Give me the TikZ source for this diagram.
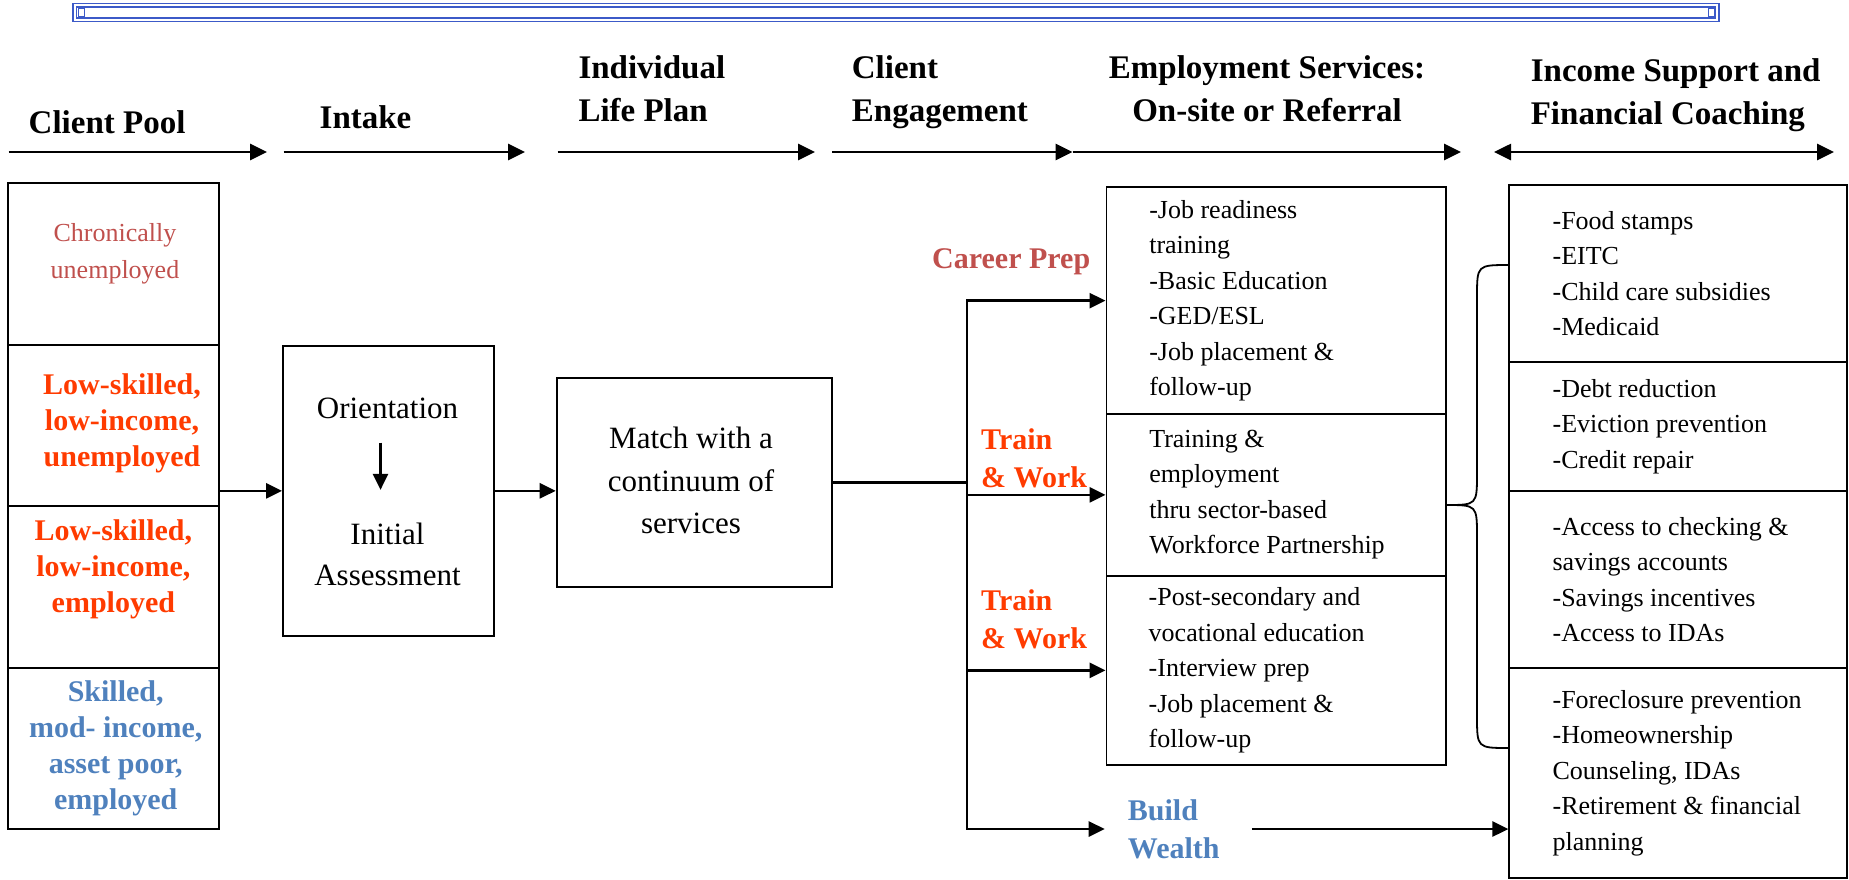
\documentclass[tikz,border=0pt]{standalone}
\usepackage{fontspec}
\setmainfont{Liberation Serif}
\usepackage{tikz}
\usetikzlibrary{arrows.meta,fit,positioning}
\definecolor{prepred}{RGB}{192,80,77}
\definecolor{workred}{RGB}{255,59,0}
\definecolor{wealthblue}{RGB}{79,129,189}
\definecolor{barblue}{RGB}{60,90,200}
\pgfkeys{tikz/myhead/.style={font=\fontsize{33}{43}\selectfont\bfseries,align=left,inner sep=0pt}}
\pgfkeys{tikz/mypool/.style={font=\fontsize{30}{36}\selectfont\bfseries,align=center,inner sep=0pt}}
\pgfkeys{tikz/mylist/.style={font=\fontsize{26}{35.5}\selectfont,align=left,inner sep=0pt,anchor=west}}
\pgfkeys{tikz/mylabel/.style={font=\fontsize{30}{38}\selectfont\bfseries,align=left,inner sep=0pt,anchor=west}}
\pgfkeys{tikz/myarrow/.style={line width=2.7pt,-{Triangle[length=16pt,width=15pt]}}}
\newcommand*\mycell[3][]{\node [fit={#3},draw,line width=1.8pt,inner sep=0pt,#1] (#2) {};}

\begin{document}
\begin{tikzpicture}[x=1pt,y=-1pt]
\useasboundingbox (0,0) rectangle (1849,879);

% frame at the top
\draw[barblue, line width=1.8pt] (73,3.5) rectangle (1719,21.5);
\draw[barblue, line width=1.4pt] (76.5,7) rectangle (1715.5,18);
\draw[barblue, line width=1pt] (78,8.5) rectangle (84,16.5) (1708,8.5) rectangle (1714,16.5);

% column heads (anchored on the last line)
\node[myhead, anchor=base west] (hpool) at (28.5,133) {Client Pool};
\node[myhead, anchor=base west] (hintake) at (319.5,128) {Intake};
\node[myhead, anchor=base west] (hplan) at (578.3,121.7) {Individual\\Life Plan};
\node[myhead, anchor=base west] (hengage) at (851.7,121.7) {Client\\Engagement};
\node[myhead, anchor=base, align=center] (hemploy) at (1267,121.7) {Employment Services:\\On-site or Referral};
\node[myhead, anchor=base west] (hincome) at (1530.6,124) {Income Support and\\Financial Coaching};

\foreach \a/\b [count=\i] in {8.7/267, 283.5/525, 557.5/815, 832/1072.6, 1072.6/1461} {
  \coordinate (hs\i) at (\a,152);
  \coordinate (he\i) at (\b,152);
  \draw[line width=2.7pt, -{Triangle[length=17pt,width=16pt]}] (hs\i) -- (he\i);
}
\coordinate (hs6) at (1494,152);
\coordinate (he6) at (1834,152);
\draw[line width=2.7pt, {Triangle[length=17pt,width=16pt]}-{Triangle[length=17pt,width=16pt]}] (hs6) -- (he6);

% client pool
\foreach \n/\t/\b in {1/183.3/345, 2/345/506, 3/506/667.7, 4/667.7/829} {
  \mycell{pool\n}{(8,\t) (218.6,\b)}
}
\node[mypool, font=\fontsize{26}{37}\selectfont, text=prepred] (pool1t) at (115,253.5) {Chronically\\unemployed};
\node[mypool, text=workred] (pool2t) at (122,423.7) {Low-skilled,\\low-income,\\unemployed};
\node[mypool, text=workred] (pool3t) at (113.4,569) {Low-skilled,\\low-income,\\employed};
\node[mypool, text=wealthblue] (pool4t) at (115.7,748.5) {Skilled,\\mod- income,\\asset poor,\\employed};

% intake and life plan
\mycell{intake}{(283,345.7) (493.6,636)}
\node[font=\fontsize{31}{41}\selectfont, inner sep=0pt] (orient) at (387.5,408) {Orientation};
\node[font=\fontsize{31}{41}\selectfont, align=center, inner sep=0pt] (assess) at (387.5,554.5) {Initial\\Assessment};
\draw[myarrow, shorten <=24pt, shorten >=33pt] ([xshift=-7pt]orient.south) -- ([xshift=-7pt]assess.north);

\mycell{match}{(556.6,378.3) (832,587.3)}
\node[font=\fontsize{31}{42.5}\selectfont, align=center, inner sep=0pt] (matcht) at (691,480.5) {Match with a\\continuum of\\services};

\draw[myarrow] (intake.west -| pool2.east) -- (intake.west);
\draw[myarrow] (intake.east) -- (intake.east -| match.west);

% employment services
\mycell{prep}{(1106.4,187.3) (1446,414)}
\mycell{trainbox}{(1106.4,414) (1446,575.7)}
\mycell{edubox}{(1106.4,575.7) (1446,765)}
\node[mylist] (prept) at ([xshift=43.6pt]prep.west) {-Job readiness\\training\\-Basic Education\\-GED/ESL\\-Job placement \&\\follow-up};
\node[mylist] (traint) at ([xshift=43.6pt]trainbox.west) {Training \&\\employment\\thru sector-based\\Workforce Partnership};
\node[mylist] (edut) at ([xshift=43pt]edubox.west) {-Post-secondary and\\vocational education\\-Interview prep\\-Job placement \&\\follow-up};

\node[mylabel, text=prepred] (preplabel) at (932,261.7) {Career Prep};
\node[mylabel, text=workred] (worklabel1) at (981,458) {Train\\\& Work};
\node[mylabel, text=workred] (worklabel2) at (981,619.5) {Train\\\& Work};
\node[mylabel, text=wealthblue, inner xsep=23pt] (wealth) at (1104.7,829) {Build\\Wealth};

% branches
\coordinate (split) at (967,482.8);
\draw[line width=2.7pt] (match.east) -- (split);
\draw[line width=2.7pt, line cap=rect] (split |- prep.west) -- (split |- wealth.west);
\foreach \b in {prep,trainbox,edubox,wealth}
  \draw[myarrow] (split |- \b.west) -- (\b.west);

% income support
\mycell{food}{(1509.3,185) (1847,362.3)}
\mycell{debt}{(1509.3,362.3) (1847,490.7)}
\mycell{saving}{(1509.3,490.7) (1847,668.3)}
\mycell{home}{(1509.3,668.3) (1847,877.7)}
\node[mylist] (foodt) at ([xshift=44pt]food.west) {-Food stamps\\-EITC\\-Child care subsidies\\-Medicaid};
\node[mylist] (debtt) at ([xshift=44pt]debt.west) {-Debt reduction\\-Eviction prevention\\-Credit repair};
\node[mylist] (savingt) at ([xshift=44pt]saving.west) {-Access to checking \&\\savings accounts\\-Savings incentives\\-Access to IDAs};
\node[mylist] (homet) at ([xshift=44pt]home.west) {-Foreclosure prevention\\-Homeownership\\Counseling, IDAs\\-Retirement \& financial\\planning};

\draw[myarrow, shorten <=9pt] (wealth.east) -- (wealth.east -| home.west);

% brace
\coordinate (bracetop) at (1509.3,265);
\coordinate (bracetip) at (1446,505);
\coordinate (bracebot) at (1509.3,748);
\draw[line width=1.8pt] (bracetop) .. controls (1477,265) .. (1477,297) -- (1477,473)
  .. controls (1477,505) .. (bracetip) .. controls (1477,505) .. (1477,537) -- (1477,716)
  .. controls (1477,748) .. (bracebot);

\end{tikzpicture}
\end{document}
